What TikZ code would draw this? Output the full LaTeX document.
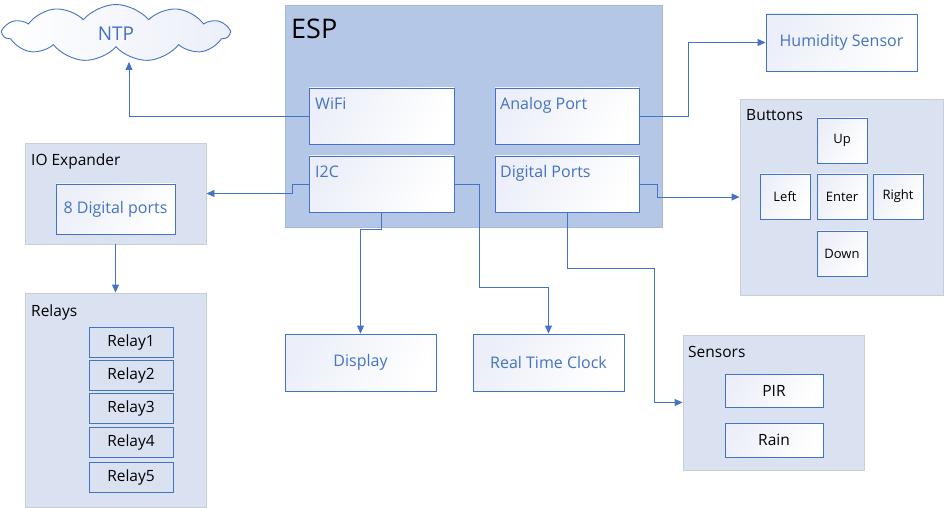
\documentclass[tikz,border=0pt]{standalone}
\usepackage{fontspec}
\setmainfont{Open Sans}
\usetikzlibrary{shapes.symbols,arrows.meta,calc}
\definecolor{blu}{RGB}{68,114,196}
\definecolor{espfill}{RGB}{180,199,231}
\definecolor{grpfill}{RGB}{218,226,242}
\definecolor{grpline}{RGB}{200,205,216}
\definecolor{boxtint}{RGB}{236,239,249}
\begin{document}
\begin{tikzpicture}[x=1pt,y=-1pt,
  esp/.style={fill=espfill, draw=espfill!80!gray, line width=0.6pt, inner sep=0},
  grp/.style={fill=grpfill, draw=grpline, line width=0.9pt, inner sep=0},
  box/.style={draw=blu, line width=0.9pt, inner sep=0, left color=boxtint, right color=white, shading angle=60},
  flat/.style={draw=blu, line width=0.9pt, inner sep=0, fill=grpfill},
  bluetxt/.style={text=blu, font=\fontsize{16}{19}\selectfont},
  blktxt/.style={text=black, font=\fontsize{15.5}{18}\selectfont},
  smalltxt/.style={text=black, font=\fontsize{13}{16}\selectfont},
  conn/.style={draw=blu, line width=0.9pt, -{Triangle[length=8pt,width=7pt]}},
  wire/.style={draw=blu, line width=0.9pt}
]
\useasboundingbox (0,0) rectangle (946,508);

% ESP
\node[esp, minimum width=377, minimum height=222] (esp) at (473.5,116) {};
\node[anchor=base west, inner sep=0, font=\fontsize{27}{32}\selectfont] (esplbl) at (291,39) {ESP};
\node[box, minimum width=145, minimum height=56] (wifi) at (381.5,116) {};
\node[box, minimum width=145, minimum height=56] (i2c) at (381.5,184) {};
\node[box, minimum width=144, minimum height=56] (analog) at (567,116) {};
\node[box, minimum width=144, minimum height=56] (digital) at (567,184) {};
\node[bluetxt, anchor=base west, inner sep=0] (wifil) at (315,110) {WiFi};
\node[bluetxt, anchor=base west, inner sep=0] (i2cl) at (315,178) {I2C};
\node[bluetxt, anchor=base west, inner sep=0] (analogl) at (500,110) {Analog Port};
\node[bluetxt, anchor=base west, inner sep=0] (digitall) at (500,178) {Digital Ports};

% NTP cloud
\node[cloud, cloud puffs=11, cloud puff arc=100, aspect=4.2, draw=blu, line width=0.9pt,
      left color=white, right color=boxtint, minimum width=226, minimum height=57, inner sep=0]
      (ntp) at (116,33) {};
\node[bluetxt, font=\fontsize{19}{22}\selectfont] (ntpl) at (116,34) {NTP};
\coordinate (ntpin) at (129,62);

% Humidity
\node[box, minimum width=151, minimum height=57, bluetxt] (hum) at (841.5,42.5) {Humidity Sensor};

% Buttons
\node[grp, minimum width=203, minimum height=196] (buttons) at (841.5,197) {};
\node[blktxt, anchor=base west, inner sep=0] (buttonsl) at (746,121) {Buttons};
\node[box, minimum width=50, minimum height=45, smalltxt] (up) at (842,140.5) {Up};
\node[box, minimum width=50, minimum height=45, smalltxt] (left) at (785,196.5) {Left};
\node[box, minimum width=50, minimum height=45, smalltxt] (enter) at (842,196.5) {Enter};
\node[box, minimum width=50, minimum height=45, smalltxt] (right) at (898,196.5) {Right};
\node[box, minimum width=50, minimum height=45, smalltxt] (down) at (842,253.5) {Down};

% IO Expander
\node[grp, minimum width=181, minimum height=101] (ioexp) at (115.5,193.5) {};
\node[blktxt, anchor=base west, inner sep=0] (ioexpl) at (31,166) {IO Expander};
\node[box, minimum width=119, minimum height=50, bluetxt] (dports) at (115.5,209) {8 Digital ports};

% Relays
\node[grp, minimum width=181, minimum height=214] (relays) at (115.5,400) {};
\node[blktxt, anchor=base west, inner sep=0] (relaysl) at (31,316) {Relays};
\node[flat, minimum width=84, minimum height=30, blktxt] (r1) at (131,342) {Relay1};
\node[flat, minimum width=84, minimum height=30, blktxt] (r2) at (131,375) {Relay2};
\node[flat, minimum width=84, minimum height=30, blktxt] (r3) at (131,408.5) {Relay3};
\node[flat, minimum width=84, minimum height=30, blktxt] (r4) at (131,442) {Relay4};
\node[flat, minimum width=84, minimum height=30, blktxt] (r5) at (131,477.5) {Relay5};

% Display and RTC
\node[box, minimum width=151, minimum height=57, bluetxt] (display) at (360.5,362.5) {Display};
\node[box, minimum width=151, minimum height=57, bluetxt] (rtc) at (548.5,362.5) {Real Time Clock};

% Sensors
\node[grp, minimum width=181, minimum height=135] (sensors) at (773.5,402.5) {};
\node[blktxt, anchor=base west, inner sep=0] (sensorsl) at (688,357) {Sensors};
\node[box, minimum width=98, minimum height=33, blktxt] (pir) at (774,390.5) {PIR};
\node[box, minimum width=98, minimum height=34, blktxt] (rain) at (774,440) {Rain};

% connectors
\coordinate (rtcturn) at (479,287);
\coordinate (sensturn) at (654,268);
\draw[conn] (wifi.west) -| (ntpin);
\draw[conn] (i2c.west) -- ++(-16,0) |- (ioexp.east);
\draw[conn] (i2c.south) -- ++(0,17) -| (display.north);
\draw[conn] (i2c.east) -| (rtcturn) -| (rtc.north);
\draw[conn] (analog.east) -- ++(49,0) |- (hum.west);
\draw[conn] (digital.east) -- ++(18,0) |- (buttons.west);
\draw[conn] (digital.south) |- (sensturn) |- (sensors.west);
\draw[conn] (ioexp.south) -- (relays.north);
\end{tikzpicture}
\end{document}
